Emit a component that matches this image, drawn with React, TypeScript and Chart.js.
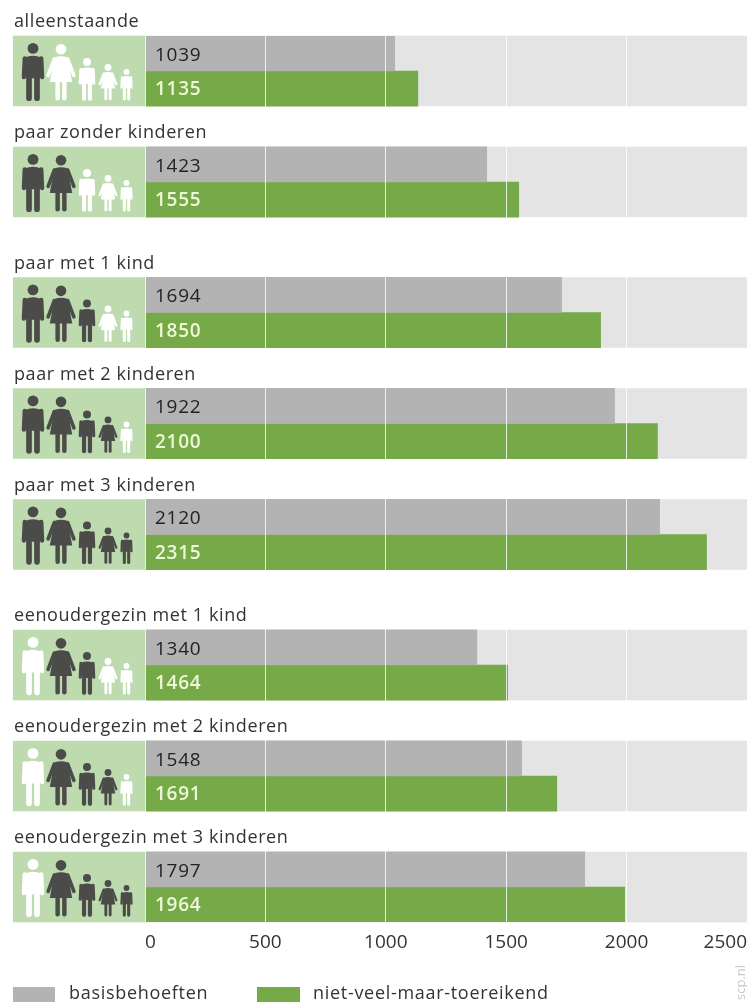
import React, { useEffect, useRef } from "react";
import { Chart, registerables } from "chart.js";

Chart.register(...registerables);

const categories = [
  "alleenstaande",
  "paar zonder kinderen",
  "paar met 1 kind",
  "paar met 2 kinderen",
  "paar met 3 kinderen",
  "eenoudergezin met 1 kind",
  "eenoudergezin met 2 kinderen",
  "eenoudergezin met 3 kinderen",
];
const groups = [0, 0, 1, 1, 1, 2, 2, 2];
// bar lengths as drawn in the picture
const basisBars = [1037, 1419, 1730, 1950, 2137, 1378, 1564, 1826];
const toereikendBars = [1133, 1552, 1892, 2128, 2332, 1506, 1710, 1992];
// printed values
const basisLabels = ["1039", "1423", "1694", "1922", "2120", "1340", "1548", "1797"];
const toereikendLabels = ["1135", "1555", "1850", "2100", "2315", "1464", "1691", "1964"];
// household figures: man, woman, three children (1 = counted, dark)
const households = [
  [1, 0, 0, 0, 0],
  [1, 1, 0, 0, 0],
  [1, 1, 1, 0, 0],
  [1, 1, 1, 1, 0],
  [1, 1, 1, 1, 1],
  [0, 1, 1, 0, 0],
  [0, 1, 1, 1, 0],
  [0, 1, 1, 1, 1],
];
const seriesNames = ["basisbehoeften", "niet-veel-maar-toereikend"];
const xMax = 2500;
const xStep = 500;

const GRAY = "#b3b3b3";
const GREEN = "#76a947";
const TRACK = "#e4e4e4";
const PANEL = "#bddbae";
const DARK = "#4b4b49";
const TEXT = "#333333";
const FONT = '"Open Sans", "Noto Sans", sans-serif';
const GROUP_GAP = 0.176;
const rowPos = categories.map((_, i) => i + groups[i] * GROUP_GAP);

function line(ctx: any, x1: number, y1: number, x2: number, y2: number, w: number) {
  ctx.lineWidth = w;
  ctx.beginPath();
  ctx.moveTo(x1, y1);
  ctx.lineTo(x2, y2);
  ctx.stroke();
}

function figure(ctx: any, cx: number, top: number, h: number, female: boolean, color: string) {
  ctx.save();
  ctx.translate(cx, top);
  ctx.scale(h, h);
  ctx.fillStyle = color;
  ctx.strokeStyle = color;
  ctx.lineCap = "round";
  ctx.lineJoin = "round";
  ctx.beginPath();
  ctx.arc(0, 0.095, 0.095, 0, Math.PI * 2);
  ctx.fill();
  for (const s of [-1, 1]) {
    if (female) {
      line(ctx, s * 0.12, 0.27, s * 0.23, 0.56, 0.065);
      line(ctx, s * 0.06, 0.66, s * 0.06, 0.97, 0.08);
    } else {
      line(ctx, s * 0.145, 0.27, s * 0.16, 0.6, 0.075);
      line(ctx, s * 0.07, 0.56, s * 0.07, 0.97, 0.1);
    }
  }
  ctx.beginPath();
  if (female) {
    ctx.moveTo(-0.12, 0.24);
    ctx.quadraticCurveTo(0, 0.2, 0.12, 0.24);
    ctx.lineTo(0.2, 0.68);
    ctx.lineTo(-0.2, 0.68);
  } else {
    ctx.moveTo(-0.15, 0.26);
    ctx.quadraticCurveTo(0, 0.19, 0.15, 0.26);
    ctx.lineTo(0.12, 0.62);
    ctx.lineTo(-0.12, 0.62);
  }
  ctx.closePath();
  ctx.fill();
  ctx.restore();
}

const decorations = {
  id: "decorations",
  beforeDatasetsDraw(chart: any) {
    const { ctx, scales } = chart;
    const x0 = scales.x.getPixelForValue(0);
    const xEnd = scales.x.getPixelForValue(xMax);
    rowPos.forEach((pos) => {
      const c = scales.y.getPixelForValue(pos);
      const top = c - 35.25;
      ctx.fillStyle = TRACK;
      ctx.fillRect(x0, top, xEnd - x0, 70.5);
      ctx.fillStyle = PANEL;
      ctx.fillRect(13, top, x0 - 13, 70.5);
    });
  },
  afterDraw(chart: any) {
    const { ctx, scales } = chart;
    ctx.save();
    rowPos.forEach((pos, i) => {
      const c = scales.y.getPixelForValue(pos);
      const bottom = c + 29;
      const color = (k: number) => (households[i][k] ? DARK : "#ffffff");
      figure(ctx, 33, bottom - 57, 57, false, color(0));
      figure(ctx, 61, bottom - 56, 56, true, color(1));
      figure(ctx, 87, bottom - 42, 42, false, color(2));
      figure(ctx, 108, bottom - 36, 36, true, color(3));
      figure(ctx, 126.5, bottom - 31, 31, false, color(4));
    });
    ctx.textBaseline = "middle";
    ctx.textAlign = "left";
    rowPos.forEach((pos, i) => {
      const c = scales.y.getPixelForValue(pos);
      ctx.font = `400 18px ${FONT}`;
      ctx.fillStyle = TEXT;
      ctx.letterSpacing = "0.6px";
      ctx.fillText(categories[i], 14, c - 49);
      ctx.letterSpacing = "0.7px";
      ctx.font = `400 19px ${FONT}`;
      ctx.fillStyle = "#222222";
      ctx.fillText(basisLabels[i], 155, c - 15.5);
      ctx.font = `600 19px ${FONT}`;
      ctx.fillStyle = "#eef7d8";
      ctx.fillText(toereikendLabels[i], 155, c + 19);
    });
    // legend
    const swatches = [
      { x: 13, w: 42, tx: 69, c: GRAY },
      { x: 257, w: 43, tx: 313, c: GREEN },
    ];
    swatches.forEach((s, i) => {
      ctx.fillStyle = s.c;
      ctx.fillRect(s.x, 987, s.w, 15);
      ctx.font = `400 18px ${FONT}`;
      ctx.fillStyle = TEXT;
      ctx.letterSpacing = "0.7px";
      ctx.fillText(seriesNames[i], s.tx, 994);
    });
    ctx.letterSpacing = "0px";
    // credit
    ctx.translate(741, 1000);
    ctx.rotate(-Math.PI / 2);
    ctx.font = `400 13px ${FONT}`;
    ctx.fillStyle = "#c8c8c8";
    ctx.fillText("scp.nl", 0, 0);
    ctx.restore();
  },
};

export default function App() {
  const ref = useRef<HTMLCanvasElement>(null);
  useEffect(() => {
    document.body.style.margin = "0";
    document.body.style.background = "#ffffff";
    const chart = new Chart(ref.current as HTMLCanvasElement, {
      type: "bar",
      data: {
        datasets: [
          {
            label: seriesNames[0],
            data: basisBars.map((v, i) => ({ x: v, y: rowPos[i] })),
            backgroundColor: GRAY,
            barThickness: 35.25,
          },
          {
            label: seriesNames[1],
            data: toereikendBars.map((v, i) => ({ x: v, y: rowPos[i] })),
            backgroundColor: GREEN,
            barThickness: 35.25,
          },
        ],
      },
      options: {
        indexAxis: "y",
        animation: false,
        responsive: false,
        layout: { padding: { left: 145, top: 36, right: 0, bottom: 0 } },
        plugins: { legend: { display: false }, tooltip: { enabled: false } },
        scales: {
          x: {
            type: "linear",
            min: 0,
            max: xMax,
            afterFit(axis: any) {
              axis.height = 80;
              axis.paddingLeft = 0;
              axis.paddingRight = 0;
            },
            border: { display: false },
            grid: { color: "rgba(255,255,255,0.8)", lineWidth: 1, z: 1, drawTicks: false },
            ticks: {
              stepSize: xStep,
              align: "inner",
              padding: 9,
              maxRotation: 0,
              color: TEXT,
              font: { family: FONT, size: 19 },
              callback: (v: any) => String(v),
            },
          },
          y: {
            type: "linear",
            reverse: true,
            display: false,
            offset: false,
            min: -0.315,
            max: rowPos[rowPos.length - 1] + 0.315,
          },
        },
      } as any,
      plugins: [decorations],
    });
    return () => chart.destroy();
  }, []);
  return <canvas ref={ref} width={747} height={1002} style={{ display: "block", width: 747, height: 1002 }} />;
}
